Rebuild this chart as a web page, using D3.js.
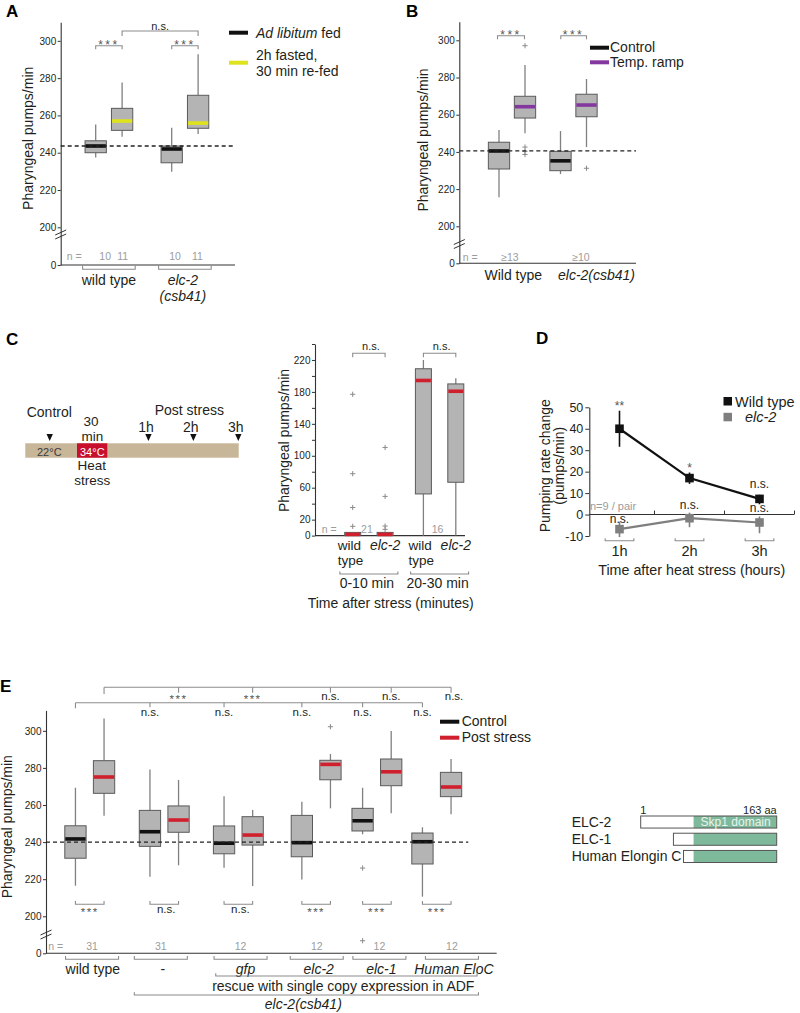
<!DOCTYPE html>
<html><head><meta charset="utf-8">
<script src="https://cdn.jsdelivr.net/npm/d3@7/dist/d3.min.js"></script>
<style>
html,body{margin:0;padding:0;background:#fff;}
svg{display:block;font-family:"Liberation Sans",Arial,Helvetica,sans-serif;}
</style></head><body>
<svg id="fig" width="800" height="1013"></svg>
<script>
// ================= DATA =================
// Panel A
const aGroups = ["wild type", "elc-2"];
const aConditions = ["Ad libitum fed", "2h fasted, 30 min re-fed"];
const aLow    = [237.5, 248.6, 229.8, 250.0];
const aQ1     = [240.0, 252.0, 234.6, 253.1];
const aMedian = [243.6, 257.0, 242.0, 255.9];
const aQ3     = [246.4, 263.8, 243.6, 270.8];
const aHigh   = [255.2, 277.7, 253.4, 292.8];
const aN      = [10, 11, 10, 11];
const aRef    = 243.6;
const aTicks  = [0, 200, 220, 240, 260, 280, 300];

// Panel B
const bGroups = ["Wild type", "elc-2(csb41)"];
const bConditions = ["Control", "Temp. ramp"];
const bLow    = [215.6, 250.0, 228.1, 242.6];
const bQ1     = [230.8, 258.2, 229.9, 258.9];
const bMedian = [240.5, 264.3, 235.2, 265.2];
const bQ3     = [245.2, 269.9, 240.3, 271.0];
const bHigh   = [251.8, 286.7, 251.2, 279.2];
const bOutliers = [[], [297.1, 242.6, 240.3, 238.6], [], [231.2]];
const bN      = ["≥13", "≥10"];
const bRef    = 240.5;
const bTicks  = [0, 200, 220, 240, 260, 280, 300];

// Panel C
const cGroups  = ["0-10 min", "20-30 min"];
const cStrains = ["wild type", "elc-2"];
const cLow    = [0, 0, 0, 0];
const cQ1     = [0, 0, 52.2, 66.8];
const cMedian = [1.5, 1.5, 194.3, 180.8];
const cQ3     = [4, 4, 209.0, 190.0];
const cHigh   = [4, 4, 220.0, 197.2];
const cOutliers = [[177, 77.5, 35.2, 11.6], [110.4, 49.1, 12.0, 7.8], [], []];
const cN = [21, 16];
const cTicks = [0, 20, 40, 60, 80, 100, 120, 140, 160, 180, 200, 220, 240];
const cTickLabels = [0, 20, 60, 100, 140, 180, 220];
const timelineHours = [1, 2, 3];
const timelineLabels = ["1h", "2h", "3h"];

// Panel D
const dTimes  = [1, 2, 3];
const dTimeLabels = ["1h", "2h", "3h"];
const dSeries = ["Wild type", "elc-2"];
const dWT     = [40.0, 17.0, 7.3];
const dWTLo   = [31.6, 14.3, 4.8];
const dWTHi   = [48.4, 19.6, 9.2];
const dElc    = [-6.8, -1.7, -3.7];
const dElcLo  = [-10.5, -5.9, -8.7];
const dElcHi  = [-3.3, 0.9, -0.9];
const dWTSig  = ["**", "*", "n.s."];
const dElcSig = ["n.s.", "n.s.", "n.s."];
const dTicks  = [-10, 0, 10, 20, 30, 40, 50];

// Panel E
const eGroups = ["wild type", "-", "gfp", "elc-2", "elc-1", "Human EloC"];
const eConditions = ["Control", "Post stress"];
const eLow    = [216.5, 254.2, 221.3, 227.5, 226.2, 216.3, 219.9, 258.2, 244.2, 255.5, 210.6, 255.0];
const eQ1     = [231.3, 266.3, 237.7, 245.3, 233.7, 238.4, 232.1, 273.6, 246.0, 270.4, 228.2, 264.5];
const eMedian = [241.7, 275.1, 245.6, 251.9, 239.4, 243.8, 239.7, 281.9, 251.5, 277.9, 240.2, 269.7];
const eQ3     = [248.8, 283.9, 257.1, 259.5, 248.7, 253.7, 254.4, 284.1, 258.2, 284.8, 244.9, 277.6];
const eHigh   = [269.3, 306.7, 279.2, 273.5, 264.7, 257.3, 261.8, 287.5, 269.3, 299.9, 248.0, 284.8];
const eOutliers = [[], [], [], [], [], [], [], [302.2], [226.0, 68], [], [], []];
const eN = [31, 31, 12, 12, 12, 12];
const eRef = 240;
const eTicks = [0, 200, 220, 240, 260, 280, 300];
const ePairSig = ["***", "n.s.", "n.s.", "***", "***", "***"];
const eVsWTControl = ["n.s.", "n.s.", "n.s.", "n.s.", "n.s."];
const eVsWTPost = ["***", "***", "n.s.", "n.s.", "n.s."];

// Protein domain diagram
const proteins = ["ELC-2", "ELC-1", "Human Elongin C"];
const proteinStart = [1, 40, 52];
const proteinEnd = [163, 163, 163];
const skp1Start = 64;

// ================= STYLE / HELPERS =================
const svg = d3.select("#fig");
const TXT = "#231f20", BOX_FILL = "#b4b4b4", BOX_STROKE = "#5a5a5a", WHISK = "#808080",
      BRK = "#8c8c8c", GRAY_TXT = "#9c9c9c", RED = "#d0202e", YELLOW = "#dfe31c",
      PURPLE = "#84379f", GREEN = "#7fb99b", TAN = "#c7b698";

function txt(g, x, y, s, o = {}) {
  const t = g.append("text").attr("x", x).attr("y", y).text(s)
    .attr("font-size", o.size || 14).attr("fill", o.color || TXT)
    .attr("text-anchor", o.anchor || "middle");
  if (o.italic) t.attr("font-style", "italic");
  if (o.weight) t.attr("font-weight", o.weight);
  if (o.ls) t.attr("letter-spacing", o.ls);
  return t;
}
function sig(g, x, yc, label, size, ls) {
  const star = label.indexOf("*") >= 0;
  return txt(g, x, yc + (star ? 0.55 : 0.27) * size, label,
    {size, ls: star ? (ls || 0) : 0, color: star ? "#555" : TXT});
}
function bracket(g, x1, x2, y, tick, color) {
  g.append("path").attr("d", `M${x1},${y + tick}L${x1},${y}L${x2},${y}L${x2},${y + tick}`)
    .attr("fill", "none").attr("stroke", color || BRK).attr("stroke-width", 1.1);
}
function yTitle(x, y, lines, size = 14) {
  const t = svg.append("text").attr("transform", `translate(${x},${y}) rotate(-90)`)
    .attr("text-anchor", "middle").attr("font-size", size).attr("fill", TXT);
  lines.forEach((l, i) => t.append("tspan").attr("x", 0).attr("dy", i ? size * 0.95 : 0).text(l));
}
function yAxis(scale, x, vals, o = {}) {
  const g = svg.append("g").attr("transform", `translate(${x},0)`)
    .call(d3.axisLeft(scale).tickValues(vals).tickSize(o.ts || 3).tickSizeOuter(0)
      .tickPadding(o.pad || 1.5).tickFormat(o.fmt || (d => d)));
  g.attr("font-family", null).attr("font-size", null);
  g.select(".domain").attr("stroke", "#333").attr("stroke-width", 1.1);
  g.selectAll(".tick line").attr("stroke", "#333");
  g.selectAll(".tick text").attr("font-size", o.size || 10).attr("fill", TXT);
  return g;
}
function hline(x1, x2, y, o = {}) {
  svg.append("line").attr("x1", x1).attr("x2", x2).attr("y1", y).attr("y2", y)
    .attr("stroke", o.color || "#333").attr("stroke-width", o.w || 1.1)
    .attr("stroke-dasharray", o.dash || null);
}
function breakMark(x, y) {
  svg.append("path").attr("d", `M${x - 5.5},${y + 1}L${x + 5.5},${y - 4}M${x - 5.5},${y + 5}L${x + 5.5},${y}`)
    .attr("stroke", "#333").attr("stroke-width", 1).attr("fill", "none");
}
function drawBoxes(items, y, w, refY) {
  const g = svg.append("g");
  items.forEach(d => {
    g.append("line").attr("x1", d.x).attr("x2", d.x).attr("y1", y(d.hi)).attr("y2", y(d.q3))
      .attr("stroke", WHISK).attr("stroke-width", 1.3);
    g.append("line").attr("x1", d.x).attr("x2", d.x).attr("y1", y(d.q1)).attr("y2", y(d.lo))
      .attr("stroke", WHISK).attr("stroke-width", 1.3);
    g.append("rect").attr("x", d.x - w / 2).attr("y", y(d.q3)).attr("width", w)
      .attr("height", Math.max(0.5, y(d.q1) - y(d.q3)))
      .attr("fill", BOX_FILL).attr("stroke", BOX_STROKE).attr("stroke-width", 1);
  });
  if (refY != null) hline(refY[0], refY[1], refY[2], {dash: "4,3", w: 1.3, color: "#222"});
  items.forEach(d => {
    g.append("line").attr("x1", d.x - w / 2 + 0.5).attr("x2", d.x + w / 2 - 0.5)
      .attr("y1", y(d.med)).attr("y2", y(d.med)).attr("stroke", d.color).attr("stroke-width", 3.6);
    (d.out || []).forEach(v => {
      const yy = y(v);
      g.append("path").attr("d", `M${d.x - 2.6},${yy}h5.2M${d.x},${yy - 2.6}v5.2`)
        .attr("stroke", "#8a8a8a").attr("stroke-width", 1);
    });
  });
}
function panelLabel(x, y, s) { txt(svg, x, y, s, {anchor: "start", size: 17, weight: "bold", color: "#000"}); }

// ================= PANEL A =================
{
  const y = d3.scaleLinear().domain([0, 200, 310]).range([265, 227.3, 22.2]);
  const xg = d3.scalePoint().domain(aGroups).range([108.9, 184.9]);
  const xs = d3.scalePoint().domain([0, 1]).range([-13.2, 13.2]);
  const items = aLow.map((lo, i) => ({
    x: xg(aGroups[Math.floor(i / 2)]) + xs(i % 2), lo, q1: aQ1[i], med: aMedian[i],
    q3: aQ3[i], hi: aHigh[i], out: [], color: i % 2 ? YELLOW : "#111"}));
  panelLabel(6, 17, "A");
  yAxis(y, 60.7, aTicks);
  breakMark(60.7, 234);
  hline(60.7, 235, y(0));
  drawBoxes(items, y, 21.3, [60.7, 233, y(aRef)]);
  bracket(svg, items[0].x, items[1].x, 45.7, 3.5);
  sig(svg, (items[0].x + items[1].x) / 2, 42.3, "***", 12, 2.5);
  bracket(svg, items[2].x, items[3].x, 45.7, 3.5);
  sig(svg, (items[2].x + items[3].x) / 2, 42.3, "***", 12, 2.5);
  bracket(svg, items[1].x, items[3].x, 31, 5);
  sig(svg, (items[1].x + items[3].x) / 2, 27, "n.s.", 11);
  txt(svg, 66.7, 260.4, "n =", {anchor: "start", size: 10.5, color: GRAY_TXT});
  const aNudge = [9.5, 0.5, 3.3, -0.7];
  items.forEach((d, i) => txt(svg, d.x + aNudge[i], 260.4, aN[i], {size: 10.5, color: GRAY_TXT}));
  aGroups.forEach(gn => bracket(svg, xg(gn) - 26.3, xg(gn) + 26.3, 269.3, -3.5));
  txt(svg, xg(aGroups[0]), 284.8, "wild type");
  txt(svg, xg(aGroups[1]) - 2, 284.8, "elc-2", {italic: true});
  txt(svg, xg(aGroups[1]) - 2, 300.5, "(csb41)", {italic: true});
  yTitle(32.8, 138.3, ["Pharyngeal pumps/min"]);
  hline(229, 248, 32.7, {color: "#111", w: 4});
  hline(229, 248, 62.7, {color: YELLOW, w: 4});
  const l1 = svg.append("text").attr("x", 256).attr("y", 38).attr("font-size", 14).attr("fill", TXT);
  l1.append("tspan").attr("font-style", "italic").text("Ad libitum");
  l1.append("tspan").text(" fed");
  const parts = aConditions[1].split(", ");
  txt(svg, 256, 60, parts[0] + ",", {anchor: "start"});
  txt(svg, 256, 76, parts[1], {anchor: "start"});
}

// ================= PANEL B =================
{
  const y = d3.scaleLinear().domain([0, 200, 310]).range([263.3, 226.3, 21.7]);
  const xg = d3.scalePoint().domain(bGroups).range([512, 573.5]);
  const xs = d3.scalePoint().domain([0, 1]).range([-13, 13]);
  const items = bLow.map((lo, i) => ({
    x: xg(bGroups[Math.floor(i / 2)]) + xs(i % 2), lo, q1: bQ1[i], med: bMedian[i],
    q3: bQ3[i], hi: bHigh[i], out: bOutliers[i], color: i % 2 ? PURPLE : "#111"}));
  panelLabel(406, 17, "B");
  yAxis(y, 459.3, bTicks);
  breakMark(459.3, 243.5);
  hline(459.3, 636, y(0));
  drawBoxes(items, y, 21.3, [459.3, 636, y(bRef)]);
  bracket(svg, items[0].x - 1.5, items[1].x - 0.5, 35.7, 3.5);
  sig(svg, (items[0].x + items[1].x) / 2 - 1, 32, "***", 12, 2.5);
  bracket(svg, items[2].x + 0.3, items[3].x, 35.7, 3.5);
  sig(svg, (items[2].x + items[3].x) / 2, 32, "***", 12, 2.5);
  txt(svg, 462.7, 261.4, "n =", {anchor: "start", size: 10.5, color: GRAY_TXT});
  const bNudge = [-2, 7.5];
  bGroups.forEach((gn, i) => txt(svg, xg(gn) + bNudge[i], 261.4, bN[i], {size: 10.5, color: GRAY_TXT}));
  txt(svg, xg(bGroups[0]) + 1.3, 280.3, "Wild type");
  txt(svg, xg(bGroups[1]) + 23, 280.3, "elc-2(csb41)", {italic: true});
  yTitle(428, 140, ["Pharyngeal pumps/min"]);
  hline(590, 609, 47.7, {color: "#111", w: 4});
  hline(590, 609, 62.3, {color: PURPLE, w: 4});
  txt(svg, 610, 51.8, bConditions[0], {anchor: "start"});
  txt(svg, 610, 67.1, bConditions[1], {anchor: "start"});
}

// ================= PANEL C =================
{
  panelLabel(6, 345, "C");
  const tl = d3.scaleLinear().domain([0, 3]).range([103.5, 238.3]);
  svg.append("rect").attr("x", 25.3).attr("y", 443.3).attr("width", 213.4).attr("height", 14.4).attr("fill", TAN);
  svg.append("rect").attr("x", 77).attr("y", 443.3).attr("width", 30.3).attr("height", 14.4).attr("fill", "#c8102e");
  txt(svg, 49.3, 456, "22°C", {size: 11, color: "#3a3a3a"});
  txt(svg, 92.3, 456, "34°C", {size: 11, color: "#fff"});
  const tri = x => svg.append("path").attr("d", `M${x - 3.2},${434}L${x + 3.2},${434}L${x},${441}Z`).attr("fill", "#111");
  tri(49.7);
  timelineHours.forEach((h, i) => { tri(tl(h)); txt(svg, tl(h) - 2.5, 432, timelineLabels[i]); });
  txt(svg, 49.3, 416.7, "Control");
  txt(svg, 91, 425.8, "30", {size: 13.5});
  txt(svg, 92.5, 441, "min", {size: 13.5});
  txt(svg, 189.3, 415, "Post stress");
  txt(svg, 91.7, 469.8, "Heat", {size: 13.5});
  txt(svg, 92.3, 485, "stress", {size: 13.5});

  const y = d3.scaleLinear().domain([0, 240]).range([535.6, 344]);
  const xg = d3.scalePoint().domain(cGroups).range([368.9, 439.6]);
  const xs = d3.scalePoint().domain([0, 1]).range([-16.2, 16.2]);
  const items = cLow.map((lo, i) => ({
    x: xg(cGroups[Math.floor(i / 2)]) + xs(i % 2), lo, q1: cQ1[i], med: cMedian[i],
    q3: cQ3[i], hi: cHigh[i], out: cOutliers[i], color: RED}));
  yAxis(y, 315, cTicks, {fmt: d => cTickLabels.includes(d) ? d : ""});
  hline(315, 465, y(0));
  drawBoxes(items, y, 16, null);
  bracket(svg, items[0].x, items[1].x, 353.3, 4);
  sig(svg, (items[0].x + items[1].x) / 2 + 2, 347.3, "n.s.", 11);
  bracket(svg, items[2].x, items[3].x, 353.3, 4);
  sig(svg, (items[2].x + items[3].x) / 2 + 2, 347.3, "n.s.", 11);
  txt(svg, 321.7, 532.6, "n =", {anchor: "start", size: 10.5, color: GRAY_TXT});
  cGroups.forEach((gn, i) => txt(svg, xg(gn) - 2, 532.6, cN[i], {size: 10.5, color: GRAY_TXT}));
  items.forEach((d, i) => {
    if (i % 2 === 0) {
      txt(svg, d.x - 15, 549.8, "wild", {anchor: "start", size: 13.5});
      txt(svg, d.x - 15, 565, "type", {anchor: "start", size: 13.5});
    } else txt(svg, d.x, 549.8, cStrains[1], {italic: true});
  });
  cGroups.forEach(gn => {
    bracket(svg, xg(gn) - 29, xg(gn) + 29, 574, -2.5);
    txt(svg, xg(gn) - 2, 588, gn);
  });
  txt(svg, 390.7, 607.7, "Time after stress (minutes)");
  yTitle(288.6, 440.5, ["Pharyngeal pumps/min"]);
}

// ================= PANEL D =================
{
  panelLabel(536, 344, "D");
  const y = d3.scaleLinear().domain([-10, 50]).range([536, 407.3]);
  const x = d3.scaleLinear().domain([0.5, 3.5]).range([584.5, 794.5]);
  yAxis(y, 589.3, dTicks, {size: 12.5, ts: 4, pad: 2});
  hline(589.3, 794, y(0), {color: "#333"});
  [1.5, 2.5, 3.5].forEach(t => svg.append("line").attr("x1", x(t)).attr("x2", x(t))
    .attr("y1", y(0)).attr("y2", y(0) - 4).attr("stroke", "#333"));
  const series = [
    {v: dElc, lo: dElcLo, hi: dElcHi, c: "#7f7f7f", sig: dElcSig},
    {v: dWT, lo: dWTLo, hi: dWTHi, c: "#111", sig: dWTSig}];
  const line = d3.line().x((d, i) => x(dTimes[i])).y(d => y(d));
  series.forEach(s => {
    svg.append("path").attr("d", line(s.v)).attr("fill", "none").attr("stroke", s.c).attr("stroke-width", 2.2);
    s.v.forEach((v, i) => {
      svg.append("line").attr("x1", x(dTimes[i])).attr("x2", x(dTimes[i]))
        .attr("y1", y(s.lo[i])).attr("y2", y(s.hi[i])).attr("stroke", s.c).attr("stroke-width", 1.6);
      svg.append("rect").attr("x", x(dTimes[i]) - 4.3).attr("y", y(v) - 4.3)
        .attr("width", 8.6).attr("height", 8.6).attr("fill", s.c);
    });
  });
  dWTSig.forEach((l, i) => sig(svg, x(dTimes[i]), y(dWTHi[i]) - (l.includes("*") ? 7 : 10), l, 12));
  const elcDy = [-2, -7, -8];
  dElcSig.forEach((l, i) => sig(svg, x(dTimes[i]), y(dElcHi[i]) + elcDy[i], l, 12));
  txt(svg, 590, 509.8, "n=9 / pair", {anchor: "start", size: 11, color: GRAY_TXT});
  dTimes.forEach((t, i) => {
    bracket(svg, x(t - 0.205), x(t + 0.205), 540.7, -2.5);
    txt(svg, x(t), 556, dTimeLabels[i], {size: 14.5});
  });
  txt(svg, 691.7, 575.2, "Time after heat stress (hours)", {size: 14.3});
  yTitle(550.3, 465.8, ["Pumping rate change", "(pumps/min)"], 14);
  svg.append("rect").attr("x", 723.5).attr("y", 397).attr("width", 8.5).attr("height", 8.5).attr("fill", "#111");
  svg.append("rect").attr("x", 723.5).attr("y", 412.8).attr("width", 8.5).attr("height", 8.5).attr("fill", "#7f7f7f");
  txt(svg, 735, 406.8, dSeries[0], {anchor: "start", size: 14.5});
  txt(svg, 745, 422.3, dSeries[1], {anchor: "start", size: 14.5, italic: true});
}

// ================= PANEL E =================
{
  panelLabel(0, 691.7, "E");
  const y = d3.scaleLinear().domain([0, 200, 311]).range([953.3, 916.3, 710.4]);
  const xg = d3.scaleOrdinal().domain(eGroups).range([89.75, 164.25, 238.35, 316.15, 376.9, 436.75]);
  const xs = d3.scalePoint().domain([0, 1]).range([-14.3, 14.3]);
  const items = eLow.map((lo, i) => ({
    x: xg(eGroups[Math.floor(i / 2)]) + xs(i % 2), lo, q1: eQ1[i], med: eMedian[i],
    q3: eQ3[i], hi: eHigh[i], out: eOutliers[i], color: i % 2 ? RED : "#111"}));
  yAxis(y, 46, eTicks);
  breakMark(46, 934);
  hline(46, 496.7, y(0));
  drawBoxes(items, y, 21.3, [46, 468.3, y(eRef)]);
  eGroups.forEach((gn, gi) => {
    const a = items[gi * 2].x, b = items[gi * 2 + 1].x;
    bracket(svg, a, b, 904.3, -3.3);
    sig(svg, (a + b) / 2 + (ePairSig[gi] === "n.s." ? 2 : 0), 909.5, ePairSig[gi], 11.5, 1.5);
  });
  const ctrlX = items.filter((d, i) => i % 2 === 0).map(d => d.x);
  const postX = items.filter((d, i) => i % 2 === 1).map(d => d.x);
  hline(ctrlX[0], ctrlX[5], 702.7, {color: BRK});
  svg.append("line").attr("x1", ctrlX[0]).attr("x2", ctrlX[0]).attr("y1", 702.7).attr("y2", 708.3).attr("stroke", BRK).attr("stroke-width", 1.1);
  ctrlX.slice(1).forEach((xx, i) => {
    svg.append("line").attr("x1", xx).attr("x2", xx).attr("y1", 702.7).attr("y2", 707.3).attr("stroke", BRK).attr("stroke-width", 1.1);
    sig(svg, xx, 712.7, eVsWTControl[i], 11.5, 1.5);
  });
  hline(postX[0], postX[5], 687.3, {color: BRK});
  svg.append("line").attr("x1", postX[0]).attr("x2", postX[0]).attr("y1", 687.3).attr("y2", 694).attr("stroke", BRK).attr("stroke-width", 1.1);
  postX.slice(1).forEach((xx, i) => {
    svg.append("line").attr("x1", xx).attr("x2", xx).attr("y1", 687.3).attr("y2", 692.7).attr("stroke", BRK).attr("stroke-width", 1.1);
    sig(svg, xx + (i === 4 ? 3 : 0), 697, eVsWTPost[i], 11.5, 1.5);
  });
  txt(svg, 48.3, 950.3, "n =", {anchor: "start", size: 10.5, color: GRAY_TXT});
  const eNudge = [2.3, -3.4, 2.2, 0.6, 2.5, 15.2];
  eGroups.forEach((gn, i) => {
    const cx = xg(gn) + eNudge[i];
    txt(svg, cx, 950.3, eN[i], {size: 10.5, color: GRAY_TXT});
    bracket(svg, cx - 26.5, cx + 26.5, 959.3, -3.3);
    txt(svg, cx + (i === 2 ? 5 : i === 0 ? 0.7 : 2), 973.5, gn, {italic: i >= 2});
  });
  const gfpL = xg(eGroups[2]) + eNudge[2] - 26.5, humR = xg(eGroups[5]) + eNudge[5] + 26.5;
  const dashL = xg(eGroups[1]) + eNudge[1] - 26.5;
  bracket(svg, gfpL + 1.7, humR - 1.4, 976, -2.7);
  txt(svg, 343.3, 990.6, "rescue with single copy expression in ADF");
  bracket(svg, dashL, humR, 995, -2.7);
  txt(svg, 303.3, 1008.8, "elc-2(csb41)", {italic: true});
  yTitle(12.4, 826.7, ["Pharyngeal pumps/min"]);
  hline(440, 459.3, 721.7, {color: "#111", w: 4});
  hline(440, 459.3, 737.7, {color: RED, w: 4});
  txt(svg, 461.7, 726.1, eConditions[0], {anchor: "start"});
  txt(svg, 461.7, 742.1, eConditions[1], {anchor: "start"});
}

// ================= DOMAIN DIAGRAM =================
{
  const x = d3.scaleLinear().domain([1, 163]).range([640.7, 776.7]);
  const yb = d3.scaleBand().domain(proteins).range([816, 862.5]).paddingInner(0.3);
  proteins.forEach((p, i) => {
    const y0 = yb(p), h = yb.bandwidth();
    svg.append("rect").attr("x", x(proteinStart[i])).attr("y", y0)
      .attr("width", x(skp1Start) - x(proteinStart[i])).attr("height", h).attr("fill", "#fff");
    svg.append("rect").attr("x", x(skp1Start)).attr("y", y0)
      .attr("width", x(proteinEnd[i]) - x(skp1Start)).attr("height", h).attr("fill", GREEN);
    svg.append("rect").attr("x", x(proteinStart[i])).attr("y", y0)
      .attr("width", x(proteinEnd[i]) - x(proteinStart[i])).attr("height", h)
      .attr("fill", "none").attr("stroke", "#555").attr("stroke-width", 1);
    txt(svg, 571.7, y0 + h / 2 + 5, p, {anchor: "start"});
  });
  txt(svg, x(1) + 2.5, 814, "1", {size: 11});
  txt(svg, x(163), 814, "163 aa", {anchor: "end", size: 11});
  txt(svg, (x(skp1Start) + x(163)) / 2 + 0.5, yb(proteins[0]) + yb.bandwidth() / 2 + 4.3, "Skp1 domain",
    {size: 12, color: "#e9f4ee"});
}
</script>
</body></html>
